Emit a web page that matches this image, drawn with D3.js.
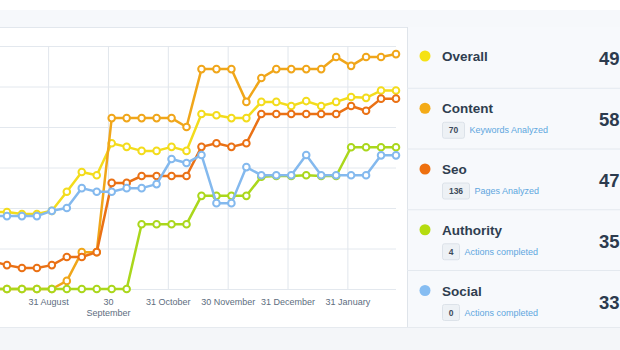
<!DOCTYPE html>
<html>
<head>
<meta charset="utf-8">
<script src="https://cdn.jsdelivr.net/npm/d3@7"></script>
<style>
  html, body { margin: 0; padding: 0; background: #fff; }
  svg { display: block; font-family: "Helvetica Neue", Helvetica, "Liberation Sans", Arial, sans-serif; }
</style>
</head>
<body>
<svg id="chart" width="620" height="350"></svg>
<script>
// Weekly scores; the first week sits just left of the visible plot edge.
const overall   = [19, 19, 18.5, 18.5, 19.3, 24, 28.9, 28.1, 36, 35.1, 34.1, 34.1, 35.1, 34.1, 43.2, 42.9, 42.2, 42.2, 46.2, 46.2, 45.2, 46.4, 45.2, 46.2, 47.4, 47.2, 49, 49];
const content   = [0, 0, 0, 0, 0, 2, 9.1, 9.1, 42.2, 42.2, 42.2, 42.2, 42.2, 40, 54.3, 54.3, 54.3, 46.2, 52.1, 54.3, 54.3, 54.3, 54.3, 57.3, 55.1, 57.3, 57.3, 58];
const seo       = [6.9, 5.9, 5.2, 5.2, 5.9, 7.9, 7.9, 9.1, 26.2, 26.2, 27.9, 27.9, 27.9, 27.9, 35.1, 36, 35.1, 36, 43.2, 43.2, 43.2, 43.2, 43.2, 43.2, 45.2, 44, 47, 47];
const authority = [0, 0, 0, 0, 0, 0, 0, 0, 0, 0, 16, 16, 16, 16, 23, 23, 23, 23, 27.7, 27.9, 27.9, 28.1, 27.9, 27.9, 35, 35, 35, 35];
const social    = [18, 18, 18, 18, 19.3, 20, 24.9, 24, 24, 24.9, 24.9, 25.9, 32.1, 31.1, 33.1, 21.2, 21.2, 30.1, 28.1, 28.1, 28.1, 33.1, 28.1, 28.1, 28.1, 28.1, 33, 33];

const seriesNames  = ["Overall", "Content", "Seo", "Authority", "Social"];
const seriesValues = [overall, content, seo, authority, social];
const lineColors   = ["#f3dc1c", "#f0a61a", "#ea7115", "#aad71c", "#84b9ee"];
const dotColors    = ["#f5e214", "#f4ab17", "#ee700f", "#b5dc10", "#86bdf2"];
const badgeCounts  = [null, 70, 136, 4, 0];
const badgeLabels  = [null, "Keywords Analyzed", "Pages Analyzed", "Actions completed", "Actions completed"];

// Month-end ticks, in week-index units
const monthTickAt  = [3.75, 7.75, 11.75, 15.75, 19.75, 23.75];
const monthLabels  = ["31 August", "30\nSeptember", "31 October", "30 November", "31 December", "31 January"];
const yTicks       = [0, 10, 20, 30, 40, 50, 60];

const W = 620, H = 350;
const svg = d3.select("#chart");

// page chrome: top strip, bottom strip
svg.append("rect").attr("width", W).attr("height", H).attr("fill", "#fff");
svg.append("rect").attr("x", 0).attr("y", 10).attr("width", W).attr("height", 17).attr("fill", "#f6f8fb");
svg.append("line").attr("x1", 0).attr("x2", W).attr("y1", 27.5).attr("y2", 27.5).attr("stroke", "#e2e7ed");
svg.append("rect").attr("x", 0).attr("y", 327).attr("width", W).attr("height", H - 327).attr("fill", "#f4f6f9");
svg.append("line").attr("x1", 0).attr("x2", W).attr("y1", 327.5).attr("y2", 327.5).attr("stroke", "#e6eaef");

const x = d3.scaleLinear().domain([0, overall.length - 1]).range([-8, 396]);
const y = d3.scaleLinear().domain([0, 60]).range([289, 46]);

// horizontal grid
const gy = svg.append("g")
  .call(d3.axisLeft(y).tickValues(yTicks).tickSize(-396).tickFormat(""));
gy.select(".domain").remove();
gy.selectAll(".tick line").attr("stroke", "#e3e8ee");

// vertical grid + month labels
const gx = svg.append("g").attr("transform", `translate(0,${y(0)})`)
  .call(d3.axisBottom(x).tickValues(monthTickAt).tickSize(-(y(0) - y(60))).tickPadding(10).tickFormat((d, i) => monthLabels[i]));
gx.select(".domain").remove();
gx.selectAll(".tick line").attr("stroke", "#e1e6ec");
gx.selectAll(".tick text")
  .attr("fill", "#5d6d7e")
  .attr("font-size", 9)
  .each(function() {
    const t = d3.select(this);
    const parts = t.text().split("\n");
    t.text(null);
    parts.forEach((p, k) => {
      t.append("tspan").attr("x", 0).attr("dy", k === 0 ? "0.71em" : "1.2em").text(p);
    });
  });

// series
const line = d3.line().x((d, i) => x(i)).y(d => y(d));
seriesValues.forEach((vals, s) => {
  const g = svg.append("g");
  g.append("path").datum(vals)
    .attr("d", line)
    .attr("fill", "none")
    .attr("stroke", lineColors[s])
    .attr("stroke-width", 2.5)
    .attr("stroke-linejoin", "round");
  g.selectAll("circle").data(vals).join("circle")
    .attr("cx", (d, i) => x(i))
    .attr("cy", d => y(d))
    .attr("r", 3.3)
    .attr("fill", "#fff")
    .attr("stroke", lineColors[s])
    .attr("stroke-width", 2);
});

// summary panel
const panelX = 407, panelTop = 27, panelBottom = 327, rowH = 60.75;
svg.append("rect").attr("x", panelX).attr("y", panelTop).attr("width", W - panelX).attr("height", panelBottom - panelTop).attr("fill", "#f7f9fc");
svg.append("line").attr("x1", panelX + 0.5).attr("x2", panelX + 0.5).attr("y1", panelTop).attr("y2", panelBottom).attr("stroke", "#dfe4ea");

const rows = svg.append("g").selectAll("g").data(seriesNames).join("g")
  .attr("transform", (d, i) => `translate(0,${panelTop + i * rowH})`);

rows.filter((d, i) => i > 0).append("line")
  .attr("x1", panelX).attr("x2", W).attr("y1", 0.5).attr("y2", 0.5).attr("stroke", "#e4e9ef");

rows.each(function(name, i) {
  const r = d3.select(this);
  const hasBadge = badgeCounts[i] !== null;
  r.append("circle").attr("cx", 425).attr("cy", hasBadge ? 20.5 : 29).attr("r", 5.5).attr("fill", dotColors[i]);
  r.append("text").attr("x", 442).attr("y", hasBadge ? 25.5 : 34)
    .attr("font-size", 13.5).attr("font-weight", "bold").attr("fill", "#2f3e50").text(name);
  const vals = seriesValues[i];
  r.append("text").attr("x", 599).attr("y", hasBadge ? 38.5 : 37.5)
    .attr("font-size", 18.5).attr("font-weight", "bold").attr("fill", "#2c3b4e")
    .text(d3.format("d")(vals[vals.length - 1]));
  if (hasBadge) {
    const bw = 12 + String(badgeCounts[i]).length * 5;
    r.append("rect")
      .attr("x", 442.5).attr("y", 34.5).attr("width", bw).attr("height", 16).attr("rx", 2)
      .attr("fill", "#edf1f5").attr("stroke", "#dce2e9");
    r.append("text").attr("x", 442.5 + bw / 2).attr("y", 45.5).attr("font-size", 8.5).attr("font-weight", "bold")
      .attr("fill", "#3d4b5c").attr("text-anchor", "middle").text(badgeCounts[i]);
    r.append("text").attr("x", 442.5 + bw + 5).attr("y", 45.5)
      .attr("font-size", 9).attr("fill", "#5ea6de").text(badgeLabels[i]);
  }
});
</script>
</body>
</html>
